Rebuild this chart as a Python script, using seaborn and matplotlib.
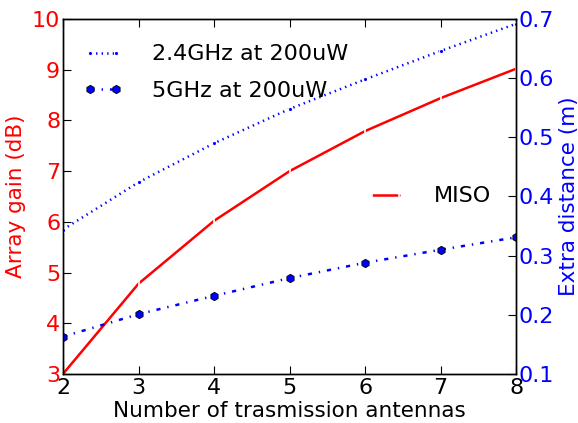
import numpy as np
import pandas as pd
import matplotlib
matplotlib.use('Agg')
import matplotlib.pyplot as plt
import seaborn as sns

# dados
antenas = [2, 3, 4, 5, 6, 7, 8]
ganho_miso = [3.0, 4.78, 6.02, 7.0, 7.79, 8.44, 9.02]
dist_24ghz = [0.344, 0.424, 0.490, 0.548, 0.598, 0.646, 0.692]
dist_5ghz = [0.163, 0.201, 0.232, 0.262, 0.288, 0.310, 0.331]

sns.set_style("white")
plt.rcParams['font.family'] = ['DejaVu Sans']
plt.rcParams['text.color'] = 'black'
plt.rcParams['axes.labelcolor'] = 'black'
plt.rcParams['lines.scale_dashes'] = False

fig = plt.figure(figsize=(5.78, 4.23), dpi=100)
ax = fig.add_axes([0.109, 0.116, 0.784, 0.839])
ax2 = ax.twinx()

sns.lineplot(x=antenas, y=ganho_miso, ax=ax, color='red', linewidth=1.8,
             marker='|', markersize=7, markeredgewidth=1.2, label='MISO')

sns.lineplot(x=antenas, y=dist_24ghz, ax=ax2, color='blue', linewidth=1.8,
             linestyle=(0, (1, 3)), marker='.', markersize=6, label='2.4GHz at 200uW')
sns.lineplot(x=antenas, y=dist_5ghz, ax=ax2, color='blue', linewidth=1.8,
             linestyle=(0, (3, 5, 1, 5)), marker='h', markersize=6,
             markeredgecolor='black', markeredgewidth=0.6, label='5GHz at 200uW')

ax.set_xlim(2, 8)
ax.set_ylim(3, 10)
ax2.set_ylim(0.1, 0.7)
ax.set_xticks(range(2, 9))
ax.set_yticks(range(3, 11))
ax2.set_yticks([0.1, 0.2, 0.3, 0.4, 0.5, 0.6, 0.7])

ax.set_xlabel('Number of trasmission antennas', fontsize=15.5, labelpad=2)
ax.set_ylabel('Array gain (dB)', fontsize=15.5, color='red', labelpad=4)
ax2.set_ylabel('Extra distance (m)', fontsize=15.5, color='blue', labelpad=3)

ax.tick_params(axis='x', direction='in', top=True, bottom=True, length=6,
               labelsize=16, colors='black', pad=3)
ax.tick_params(axis='y', direction='in', left=True, right=False, length=6,
               labelsize=16, labelcolor='red', color='black', pad=2)
ax2.tick_params(axis='y', direction='in', right=True, length=6,
                labelsize=16, labelcolor='blue', color='black', pad=2)

for a in (ax, ax2):
    for s in a.spines.values():
        s.set_color('black')
        s.set_linewidth(1)

ax.legend(loc='center right', bbox_to_anchor=(0.99, 0.5), frameon=False,
          fontsize=16, numpoints=2, handlelength=1.8, handletextpad=1.3)
ax2.legend(loc='upper left', bbox_to_anchor=(0.0, 0.985), frameon=False,
           fontsize=16, numpoints=2, handlelength=1.8, handletextpad=1.3,
           labelspacing=0.75)

fig.savefig('out.png', dpi=100)
